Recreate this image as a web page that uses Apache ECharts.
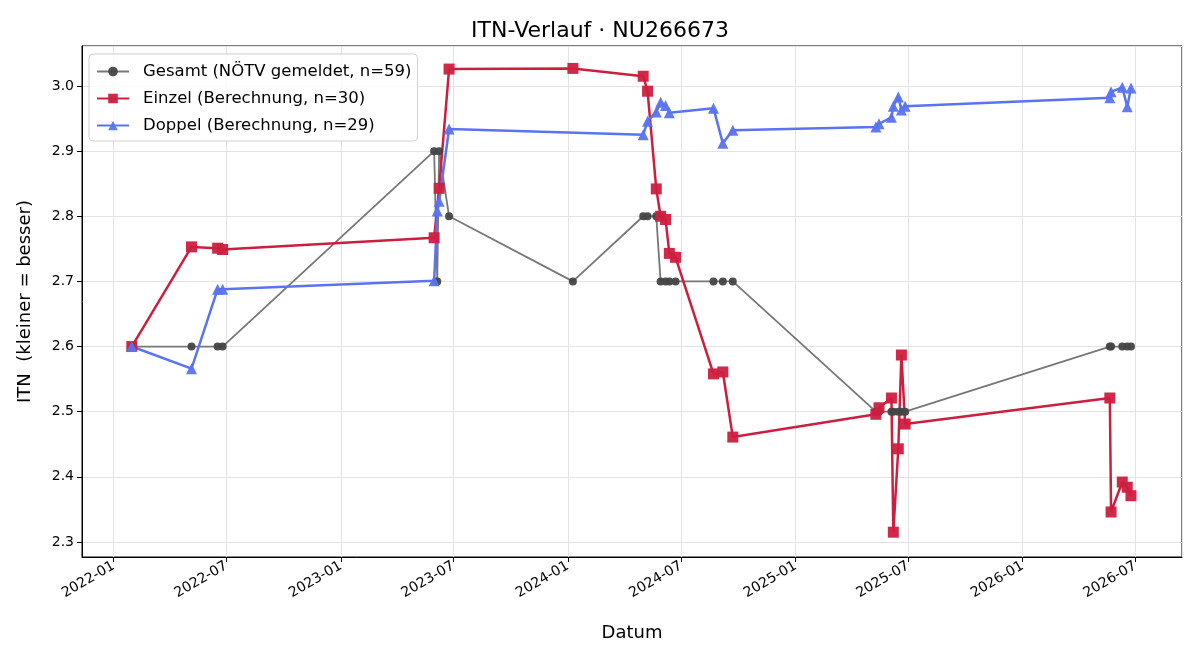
<!DOCTYPE html>
<html>
<head>
<meta charset="utf-8">
<title>ITN-Verlauf</title>
<script src="https://cdn.jsdelivr.net/npm/echarts@6/dist/echarts.min.js"></script>
<style>
    html, body { margin: 0; padding: 0; background: #fff; }
    #chart { width: 1200px; height: 660px; }
</style>
</head>
<body>
<div id="chart"></div>
<script>
// Gesamt (NÖTV gemeldet)
const gesamtDates = [
    '2022-01-30', '2022-05-06', '2022-06-17', '2022-06-25',
    '2023-05-31', '2023-06-05', '2023-06-08', '2023-06-24',
    '2024-01-09',
    '2024-05-01', '2024-05-08', '2024-05-22', '2024-05-29', '2024-06-06', '2024-06-12', '2024-06-22',
    '2024-08-22', '2024-09-06', '2024-09-22',
    '2025-05-10', '2025-05-15', '2025-06-04', '2025-06-07', '2025-06-15', '2025-06-20', '2025-06-26',
    '2026-05-21', '2026-05-23', '2026-06-10', '2026-06-18', '2026-06-24'
];
const gesamtValues = [
    2.6, 2.6, 2.6, 2.6,
    2.9, 2.7, 2.9, 2.8,
    2.7,
    2.8, 2.8, 2.8, 2.7, 2.7, 2.7, 2.7,
    2.7, 2.7, 2.7,
    2.5, 2.5, 2.5, 2.5, 2.5, 2.5, 2.5,
    2.6, 2.6, 2.6, 2.6, 2.6
];

// Einzel (Berechnung)
const einzelDates = [
    '2022-01-30', '2022-05-06', '2022-06-17', '2022-06-25',
    '2023-05-31', '2023-06-08', '2023-06-24',
    '2024-01-09',
    '2024-05-01', '2024-05-08', '2024-05-22', '2024-05-29', '2024-06-06', '2024-06-12', '2024-06-22',
    '2024-08-22', '2024-09-06', '2024-09-22',
    '2025-05-10', '2025-05-15', '2025-06-04', '2025-06-07', '2025-06-15', '2025-06-20', '2025-06-26',
    '2026-05-21', '2026-05-23', '2026-06-10', '2026-06-18', '2026-06-24'
];
const einzelValues = [
    2.600, 2.753, 2.751, 2.749,
    2.767, 2.843, 3.026,
    3.027,
    3.015, 2.992, 2.842, 2.800, 2.795, 2.743, 2.737,
    2.558, 2.561, 2.461,
    2.496, 2.506, 2.521, 2.315, 2.443, 2.587, 2.481,
    2.521, 2.346, 2.392, 2.384, 2.371
];

// Doppel (Berechnung)
const doppelDates = [
    '2022-01-30', '2022-05-06', '2022-06-17', '2022-06-25',
    '2023-05-31', '2023-06-05', '2023-06-08', '2023-06-24',
    '2024-05-01', '2024-05-08', '2024-05-22', '2024-05-29', '2024-06-06', '2024-06-12',
    '2024-08-22', '2024-09-06', '2024-09-22',
    '2025-05-10', '2025-05-15', '2025-06-04', '2025-06-07', '2025-06-15', '2025-06-20', '2025-06-26',
    '2026-05-21', '2026-05-23', '2026-06-10', '2026-06-18', '2026-06-24'
];
const doppelValues = [
    2.600, 2.566, 2.688, 2.688,
    2.701, 2.808, 2.823, 2.934,
    2.925, 2.946, 2.960, 2.975, 2.970, 2.959,
    2.966, 2.912, 2.932,
    2.937, 2.942, 2.952, 2.969, 2.983, 2.963, 2.969,
    2.982, 2.991, 2.998, 2.968, 2.997
];

const seriesNames = ['Gesamt (NÖTV gemeldet, n=59)', 'Einzel (Berechnung, n=30)', 'Doppel (Berechnung, n=29)'];

const FONT = 'DejaVu Sans';

function pairs(dates, values) {
    return dates.map((d, i) => [d, values[i]]);
}

function fmtMonth(value) {
    const d = new Date(value);
    const m = d.getMonth() + 1;
    return d.getFullYear() + '-' + (m < 10 ? '0' + m : m);
}

const chart = echarts.init(document.getElementById('chart'));

const option = {
    animation: false,
    textStyle: { fontFamily: FONT },
    title: {
        text: 'ITN-Verlauf · NU266673',
        left: 'center',
        top: 15,
        textStyle: { fontFamily: FONT, fontSize: 22, fontWeight: 'normal', color: '#000' }
    },
    legend: {
        data: seriesNames,
        orient: 'vertical',
        left: 89,
        top: 54,
        padding: [9, 6, 7, 7],
        itemGap: 10,
        itemWidth: 32,
        itemHeight: 12,
        backgroundColor: 'rgba(255,255,255,0.85)',
        borderColor: '#d0d0d0',
        borderWidth: 1,
        borderRadius: 4,
        textStyle: { fontFamily: FONT, fontSize: 16.5, color: '#000', padding: [0, 0, 0, 9] }
    },
    grid: {
        left: 82,
        right: 18,
        top: 46,
        bottom: 103,
        show: true,
        borderColor: '#000',
        borderWidth: 1,
        backgroundColor: '#fff'
    },
    xAxis: {
        type: 'time',
        min: '2021-11-11',
        max: '2026-09-14',
        minInterval: 180 * 86400000,
        maxInterval: 186 * 86400000,
        name: 'Datum',
        nameLocation: 'middle',
        nameGap: 67,
        nameTextStyle: { fontFamily: FONT, fontSize: 18, color: '#000' },
        axisLine: { show: true, lineStyle: { color: '#000' } },
        axisTick: { show: true, length: 5, lineStyle: { color: '#000' } },
        axisLabel: {
            rotate: 30,
            margin: 8,
            fontFamily: FONT,
            fontSize: 14,
            color: '#000',
            showMinLabel: false,
            showMaxLabel: false,
            formatter: fmtMonth
        },
        splitLine: { show: true, lineStyle: { color: '#e3e3e3', width: 1 } },
        minorTick: { show: false }
    },
    yAxis: {
        type: 'value',
        min: 2.2769,
        max: 3.0614,
        splitNumber: 8,
        name: 'ITN  (kleiner = besser)',
        nameLocation: 'middle',
        nameGap: 48,
        nameTextStyle: { fontFamily: FONT, fontSize: 18, color: '#000' },
        axisLine: { show: true, lineStyle: { color: '#000' } },
        axisTick: { show: true, length: 5, lineStyle: { color: '#000' } },
        axisLabel: {
            margin: 8,
            fontFamily: FONT,
            fontSize: 14,
            color: '#000',
            showMinLabel: false,
            showMaxLabel: false,
            formatter: v => v.toFixed(1)
        },
        splitLine: { show: true, lineStyle: { color: '#e3e3e3', width: 1 } }
    },
    series: [
        {
            name: seriesNames[0],
            type: 'line',
            data: pairs(gesamtDates, gesamtValues),
            symbol: 'circle',
            symbolSize: 8,
            lineStyle: { color: '#777777', width: 1.8 },
            itemStyle: { color: '#444444', opacity: 0.95 }
        },
        {
            name: seriesNames[1],
            type: 'line',
            data: pairs(einzelDates, einzelValues),
            symbol: 'rect',
            symbolSize: 11,
            lineStyle: { color: '#cc1f3f', width: 2.5 },
            itemStyle: { color: '#cc1f3f', opacity: 0.95 }
        },
        {
            name: seriesNames[2],
            type: 'line',
            data: pairs(doppelDates, doppelValues),
            symbol: 'triangle',
            symbolSize: 11,
            lineStyle: { color: '#5a73f0', width: 2.5 },
            itemStyle: { color: '#5a73f0', opacity: 0.95 }
        }
    ]
};

chart.setOption(option);
window.addEventListener('resize', () => chart.resize());
</script>
</body>
</html>
